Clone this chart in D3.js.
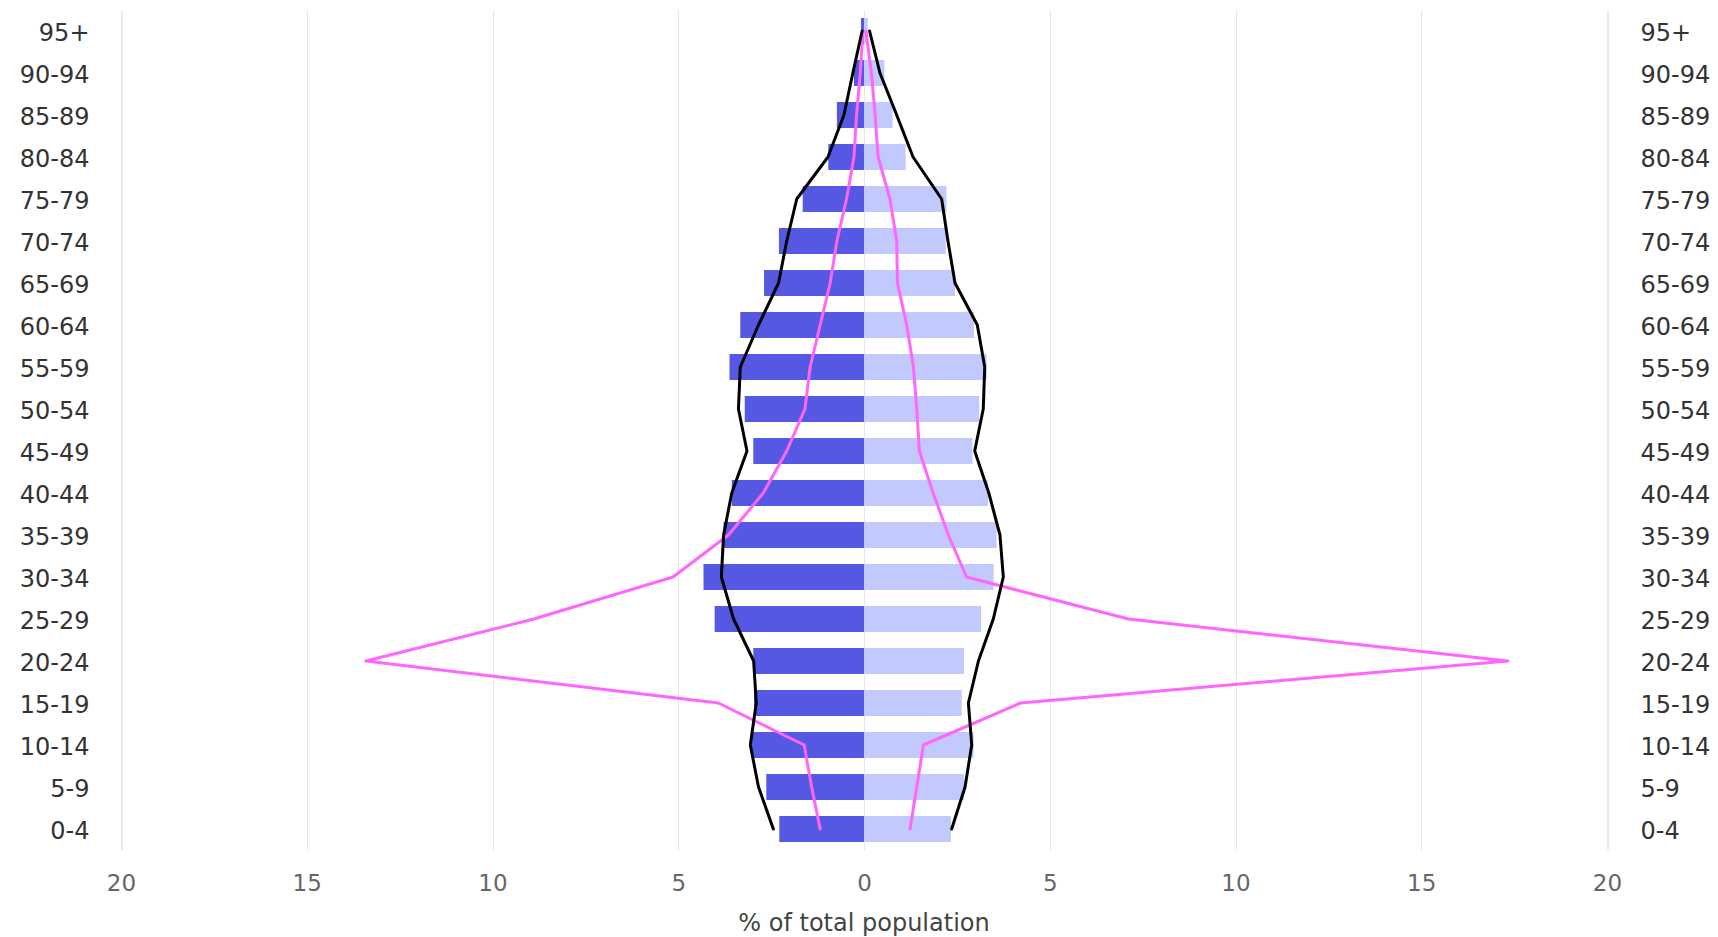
<!DOCTYPE html>
<html>
<head>
<meta charset="utf-8">
<script src="https://cdn.jsdelivr.net/npm/d3@7"></script>
<style>
  html, body { margin: 0; padding: 0; background: #ffffff; }
  svg { display: block; font-family: "DejaVu Sans", "Lucida Grande", Verdana, sans-serif; }
</style>
</head>
<body>
<svg id="chart" width="1718" height="937"></svg>
<script>
// Age groups, bottom to top
const categories = ["0-4","5-9","10-14","15-19","20-24","25-29","30-34","35-39","40-44","45-49",
                    "50-54","55-59","60-64","65-69","70-74","75-79","80-84","85-89","90-94","95+"];

// Bars (% of total population)
const maleBars   = [2.28, 2.63, 3.02, 2.96, 2.98, 4.02, 4.32, 3.78, 3.56, 2.98,
                    3.21, 3.62, 3.33, 2.69, 2.29, 1.65, 0.96, 0.73, 0.27, 0.08];
const femaleBars = [2.34, 2.69, 2.95, 2.63, 2.69, 3.15, 3.49, 3.57, 3.34, 2.92,
                    3.10, 3.30, 2.96, 2.45, 2.20, 2.22, 1.12, 0.77, 0.55, 0.10];

// Black comparison lines
const maleLineBlack   = [2.44, 2.84, 3.06, 2.90, 2.97, 3.51, 3.84, 3.78, 3.56, 3.15,
                         3.38, 3.33, 2.84, 2.30, 2.08, 1.81, 0.97, 0.54, 0.30, 0.05];
const femaleLineBlack = [2.36, 2.72, 2.90, 2.81, 3.08, 3.48, 3.75, 3.66, 3.36, 2.98,
                         3.21, 3.25, 3.05, 2.45, 2.26, 2.09, 1.32, 0.88, 0.43, 0.15];

// Pink comparison lines
const maleLinePink   = [1.18, 1.41, 1.61, 3.92, 13.41, 8.89, 5.14, 3.65, 2.71, 2.08,
                        1.59, 1.45, 1.18, 0.91, 0.73, 0.47, 0.27, 0.20, 0.10, 0.03];
const femaleLinePink = [1.24, 1.42, 1.60, 4.21, 17.33, 7.12, 2.76, 2.27, 1.86, 1.49,
                        1.42, 1.33, 1.15, 0.90, 0.88, 0.70, 0.38, 0.30, 0.20, 0.05];

const xTicks = [-20, -15, -10, -5, 0, 5, 10, 15, 20];
const xTitle = "% of total population";

const svg = d3.select("#chart");
const plot = { left: 121, right: 1607, top: 10, bottom: 850 };

const x = d3.scaleLinear().domain([-20, 20]).range([plot.left, plot.right]);
const y = d3.scaleBand().domain(categories.slice().reverse()).range([plot.top, plot.bottom]).padding(0);
const yc = c => y(c) + y.bandwidth() / 2;
const barH = 26;

// Grid lines
svg.append("g").selectAll("line").data(xTicks.filter(t => Math.abs(t) !== 20)).join("line")
  .attr("x1", d => Math.round(x(d)) + 0.5).attr("x2", d => Math.round(x(d)) + 0.5)
  .attr("y1", plot.top).attr("y2", plot.bottom)
  .attr("stroke", "#e6e6e6").attr("stroke-width", 1);

// Bars
const maleData = categories.map((c, i) => ({ c, v: maleBars[i] }));
const femaleData = categories.map((c, i) => ({ c, v: femaleBars[i] }));

svg.append("g").selectAll("rect").data(maleData).join("rect")
  .attr("x", d => x(-d.v)).attr("width", d => x(0) - x(-d.v))
  .attr("y", d => yc(d.c) - barH / 2).attr("height", barH)
  .attr("fill", "#5558e3");

svg.append("g").selectAll("rect").data(femaleData).join("rect")
  .attr("x", x(0)).attr("width", d => x(d.v) - x(0))
  .attr("y", d => yc(d.c) - barH / 2).attr("height", barH)
  .attr("fill", "#c2cafd");

// Lines
const line = d3.line().x(d => x(d.v)).y(d => yc(d.c));
function drawLine(vals, sign, color) {
  const data = categories.map((c, i) => ({ c, v: sign * vals[i] }));
  svg.append("path").datum(data)
    .attr("d", line).attr("fill", "none")
    .attr("stroke", color).attr("stroke-width", 3)
    .attr("stroke-linejoin", "round").attr("stroke-linecap", "round");
}
drawLine(maleLinePink, -1, "#ff66ff");
drawLine(femaleLinePink, 1, "#ff66ff");
drawLine(maleLineBlack, -1, "#000000");
drawLine(femaleLineBlack, 1, "#000000");

// Category axes
const leftAxis = svg.append("g").attr("transform", `translate(${plot.left + 0.5},0)`)
  .call(d3.axisLeft(y).tickSize(0).tickPadding(32));
const rightAxis = svg.append("g").attr("transform", `translate(${plot.right + 0.5},0)`)
  .call(d3.axisRight(y).tickSize(0).tickPadding(33));
[leftAxis, rightAxis].forEach(a => {
  a.select(".domain").attr("stroke", "#ccd6eb").attr("stroke-width", 1);
  a.selectAll("text").attr("font-size", 24).attr("fill", "#333333")
    .attr("font-family", "DejaVu Sans, sans-serif").attr("dy", "0.4em");
});

// Value axis
const bottomAxis = svg.append("g").attr("transform", `translate(0,${plot.bottom})`)
  .call(d3.axisBottom(x).tickValues(xTicks).tickFormat(d => Math.abs(d)).tickSize(0).tickPadding(25));
bottomAxis.select(".domain").remove();
bottomAxis.selectAll("text").attr("font-size", 23).attr("fill", "#666666")
  .attr("font-family", "DejaVu Sans, sans-serif");

// Axis title
svg.append("text").attr("x", x(0)).attr("y", 931).attr("text-anchor", "middle")
  .attr("font-size", 24).attr("fill", "#444444").text(xTitle);
</script>
</body>
</html>
